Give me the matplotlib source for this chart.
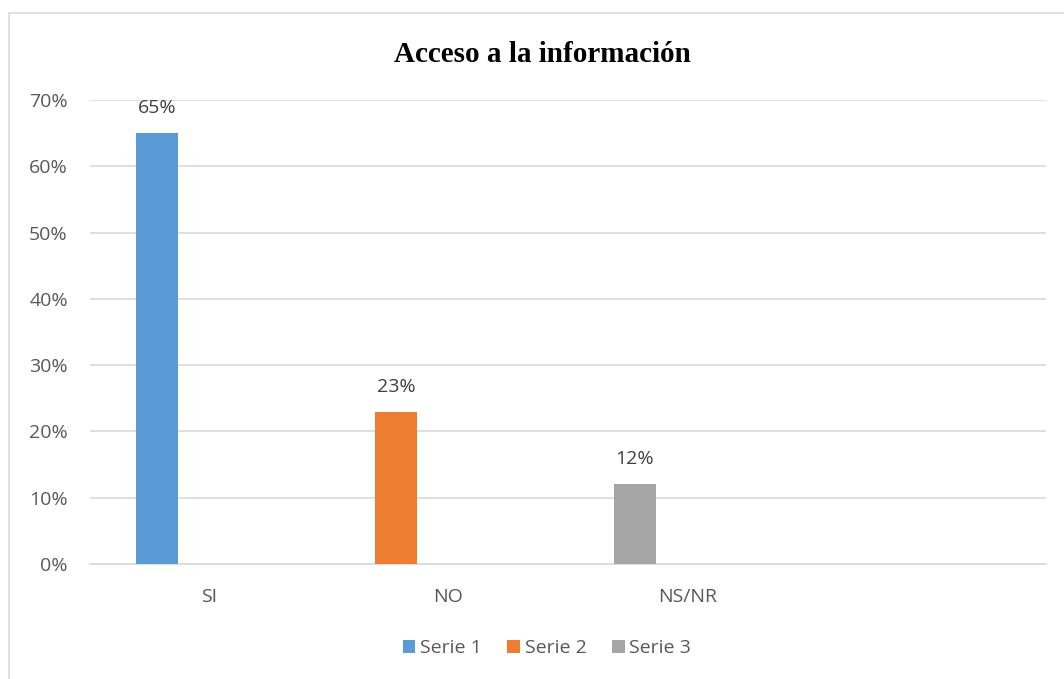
import matplotlib.pyplot as plt
from matplotlib.patches import Rectangle
from matplotlib.ticker import PercentFormatter

# Data
categories = ['SI', 'NO', 'NS/NR', '']
series_names = ['Serie 1', 'Serie 2', 'Serie 3']
series_values = [
    [0.65, None, None, None],
    [None, 0.23, None, None],
    [None, None, 0.12, None],
]
series_colors = ['#5b9bd5', '#ed7d31', '#a5a5a5']
yticks = [0.0, 0.1, 0.2, 0.3, 0.4, 0.5, 0.6, 0.7]

text_color = '#595959'
grid_color = '#d9d9d9'
fsize = 14

fig = plt.figure(figsize=(10.64, 6.79), dpi=100)
ax = fig.add_axes([90 / 1064, 115 / 679, 956 / 1064, 464 / 679])

# Outer chart border
fig.patches.append(Rectangle((9 / 1064, -0.05), 1.2, (679 - 13) / 679 + 0.05,
                             transform=fig.transFigure, fill=False,
                             edgecolor=grid_color, linewidth=1.2))

bar_w = 0.176
offset = -0.22
for name, vals, color in zip(series_names, series_values, series_colors):
    xs = [i + offset for i, v in enumerate(vals) if v is not None]
    ys = [v for v in vals if v is not None]
    ax.bar(xs, ys, width=bar_w, color=color, label=name, zorder=3)
    for x, y in zip(xs, ys):
        ax.annotate(f'{y * 100:.0f}%', (x, y), xytext=(0, 18),
                    textcoords='offset points', ha='center', va='center',
                    fontsize=fsize, color='#404040', family='Open Sans')

ax.set_xlim(-0.5, len(categories) - 0.5)
ax.set_ylim(0, 0.7)
ax.set_yticks(yticks)
ax.yaxis.set_major_formatter(PercentFormatter(1.0, decimals=0))
ax.set_xticks(range(len(categories)))
ax.set_xticklabels(categories)
ax.tick_params(axis='both', length=0, labelsize=fsize, labelcolor=text_color)
ax.tick_params(axis='x', pad=17)
ax.tick_params(axis='y', pad=16)
for lbl in ax.get_xticklabels() + ax.get_yticklabels():
    lbl.set_family('Open Sans')

ax.grid(axis='y', color=grid_color, linewidth=1.2, zorder=0)
for side in ['top', 'right', 'left']:
    ax.spines[side].set_visible(False)
ax.spines['bottom'].set_color(grid_color)
ax.spines['bottom'].set_linewidth(1.2)

fig.text(542 / 1064, 1 - 54 / 679, 'Acceso a la información', ha='center',
         va='center', fontsize=21, fontweight='bold', family='Liberation Serif')

leg = fig.legend(loc='center', bbox_to_anchor=(547 / 1064, 1 - 648 / 679),
                 ncol=3, frameon=False, handlelength=0.65, handleheight=0.65,
                 handletextpad=0.25, columnspacing=1.3,
                 prop={'family': 'Open Sans', 'size': fsize})
for t in leg.get_texts():
    t.set_color(text_color)

fig.savefig('out.png', dpi=100)
